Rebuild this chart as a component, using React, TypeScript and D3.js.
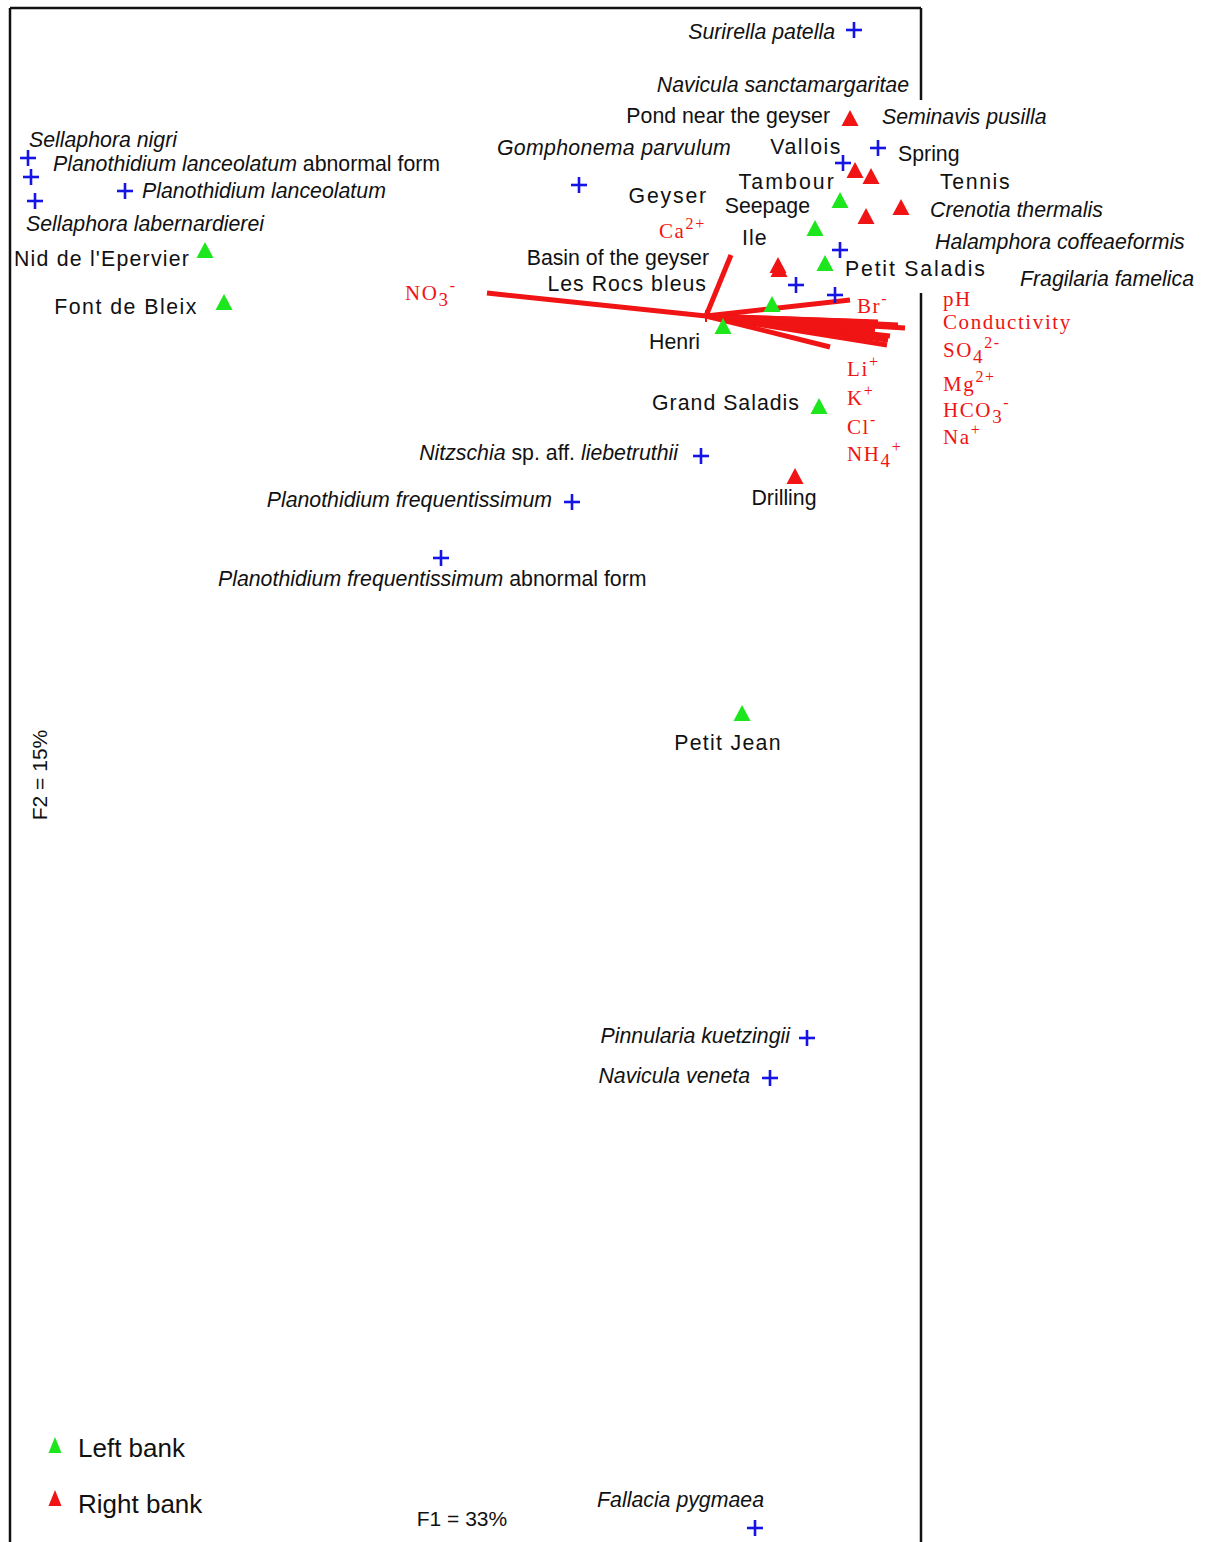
import React from 'react';
import * as d3 from 'd3';

const W = 1213;
const H = 1542;

// species scores (blue crosses); *...* marks italic parts of the name
const speciesNames = [
  '*Surirella patella*',
  '*Navicula sanctamargaritae*',
  '*Seminavis pusilla*',
  '*Gomphonema parvulum*',
  '*Sellaphora nigri*',
  '*Planothidium lanceolatum* abnormal form',
  '*Planothidium lanceolatum*',
  '*Sellaphora labernardierei*',
  '*Crenotia thermalis*',
  '*Halamphora coffeaeformis*',
  '*Fragilaria famelica*',
  '*Nitzschia* sp. aff. *liebetruthii*',
  '*Planothidium frequentissimum*',
  '*Planothidium frequentissimum* abnormal form',
  '*Pinnularia kuetzingii*',
  '*Navicula veneta*',
  '*Fallacia pygmaea*',
];
const speciesF1 = [1.48, 1.37, 1.72, -1.27, -6.78, -6.75, -5.81, -6.71, 1.34, 0.9, 1.29, -0.05, -1.34, -2.65, 1.01, 0.64, 0.49];
const speciesF2 = [2.86, 1.53, 1.68, 1.31, 1.58, 1.39, 1.25, 1.15, 0.66, 0.31, 0.21, -1.4, -1.86, -2.42, -7.22, -7.62, -12.12];

// sampling sites (triangles)
const siteNames = [
  'Pond near the geyser', 'Vallois', 'Spring', 'Tambour', 'Tennis', 'Geyser', 'Seepage', 'Ile',
  'Basin of the geyser', 'Petit Saladis', 'Les Rocs bleus', 'Henri', 'Grand Saladis', 'Drilling',
  'Petit Jean', "Nid de l'Epervier", 'Font de Bleix',
];
const siteF1 = [1.44, 1.49, 1.65, 1.34, 1.95, 1.6, 1.09, 0.72, 0.73, 1.19, 0.66, 0.17, 1.13, 0.89, 0.36, -5.01, -4.82];
const siteF2 = [1.98, 1.46, 1.4, 1.16, 1.09, 1.0, 0.88, 0.51, 0.47, 0.53, 0.12, -0.1, -0.9, -1.6, -3.97, 0.66, 0.14];
const siteBank = ['R', 'R', 'R', 'L', 'R', 'R', 'L', 'R', 'R', 'L', 'L', 'L', 'L', 'R', 'L', 'L', 'L'];

// environmental variables (red vectors); {} subscript, [] superscript
const varNames = [
  'NO{3}[-]', 'Ca[2+]', 'Br[-]', 'pH', 'Conductivity', 'SO{4}[2-]', 'Mg[2+]',
  'HCO{3}[-]', 'Na[+]', 'Li[+]', 'K[+]', 'Cl[-]', 'NH{4}[+]',
];
const varF1 = [-2.19, 0.25, 1.44, 1.99, 1.92, 1.84, 1.82, 1.81, 1.72, 1.24, 1.62, 1.69, 1.54];
const varF2 = [0.23, 0.61, 0.16, -0.12, -0.09, -0.2, -0.24, -0.29, -0.06, -0.31, -0.06, -0.14, -0.11];

const bankLabels = { L: 'Left bank', R: 'Right bank' };

// label nudges in px relative to the mark
type Nudge = { dx: number; dy: number; anchor: string; ls?: number };
const speciesNudge: Nudge[] = [
  { dx: -19, dy: 9, anchor: 'end' },
  { dx: 66, dy: -71, anchor: 'end' },
  { dx: 4, dy: -24, anchor: 'start' },
  { dx: -82, dy: -30, anchor: 'start', ls: 0.3 },
  { dx: 1, dy: -11, anchor: 'start' },
  { dx: 22, dy: -6, anchor: 'start' },
  { dx: 17, dy: 7, anchor: 'start' },
  { dx: -9, dy: 30, anchor: 'start' },
  { dx: 90, dy: -33, anchor: 'start' },
  { dx: 139, dy: -36, anchor: 'start' },
  { dx: 185, dy: -9, anchor: 'start' },
  { dx: -23, dy: 4, anchor: 'end' },
  { dx: -20, dy: 5, anchor: 'end' },
  { dx: -223, dy: 28, anchor: 'start' },
  { dx: -17, dy: 5, anchor: 'end' },
  { dx: -20, dy: 5, anchor: 'end' },
  { dx: 9, dy: -21, anchor: 'end' },
];
const siteNudge: Nudge[] = [
  { dx: -20, dy: 5, anchor: 'end' },
  { dx: -13, dy: -16, anchor: 'end', ls: 1.5 },
  { dx: 27, dy: -15, anchor: 'start' },
  { dx: -4, dy: -11, anchor: 'end', ls: 2.1 },
  { dx: 39, dy: -18, anchor: 'start', ls: 1.6 },
  { dx: -158, dy: -13, anchor: 'end', ls: 1.8 },
  { dx: -5, dy: -15, anchor: 'end' },
  { dx: -36, dy: -20, anchor: 'start', ls: 1 },
  { dx: -70, dy: -4, anchor: 'end' },
  { dx: 20, dy: 13, anchor: 'start', ls: 1.8 },
  { dx: -65, dy: -13, anchor: 'end', ls: 1 },
  { dx: -23, dy: 23, anchor: 'end' },
  { dx: -19, dy: 4, anchor: 'end', ls: 1 },
  { dx: -11, dy: 29, anchor: 'middle' },
  { dx: -14, dy: 37, anchor: 'middle', ls: 1.3 },
  { dx: -15, dy: 16, anchor: 'end', ls: 1.2 },
  { dx: -26, dy: 12, anchor: 'end', ls: 1.5 },
];
const varNudge: Nudge[] = [
  { dx: -82, dy: 7, anchor: 'start' },
  { dx: -72, dy: -17, anchor: 'start' },
  { dx: 7, dy: 13, anchor: 'start' },
  { dx: 38, dy: -22, anchor: 'start' },
  { dx: 45, dy: 4, anchor: 'start' },
  { dx: 53, dy: 21, anchor: 'start' },
  { dx: 55, dy: 51, anchor: 'start' },
  { dx: 56, dy: 72, anchor: 'start' },
  { dx: 65, dy: 122, anchor: 'start' },
  { dx: 17, dy: 29, anchor: 'start' },
  { dx: -21, dy: 83, anchor: 'start' },
  { dx: -28, dy: 104, anchor: 'start' },
  { dx: -13, dy: 134, anchor: 'start' },
];

const BLUE = '#1414e6';
const GREEN = '#1de61d';
const RED = '#f01414';
const SANS = '"Liberation Sans", Arial, sans-serif';
const SERIF = '"Liberation Serif", "Times New Roman", serif';

function italicParts(name: string) {
  return name.split('*').map((s, i) =>
    s ? (
      <tspan key={i} fontStyle={i % 2 === 1 ? 'italic' : 'normal'}>
        {s}
      </tspan>
    ) : null
  );
}

function chemParts(markup: string) {
  const tokens = markup.match(/\{[^}]*\}|\[[^\]]*\]|[^{[]+/g) || [];
  let shift = 0;
  return tokens.map((t, i) => {
    let target = 0;
    let size: number | undefined;
    let text = t;
    if (t[0] === '{') {
      target = 6;
      size = 19;
      text = t.slice(1, -1);
    } else if (t[0] === '[') {
      target = -9;
      size = 16;
      text = t.slice(1, -1);
    }
    const dy = target - shift;
    shift = target;
    return (
      <tspan key={i} dy={dy} fontSize={size}>
        {text}
      </tspan>
    );
  });
}

const tri = (w: number, h: number) => `M0,${-h / 2}L${w / 2},${h / 2}L${-w / 2},${h / 2}Z`;

export default function App() {
  const x = d3.scaleLinear().domain([-6.96, 2.15]).range([10, 921]);
  const y = d3.scaleLinear().domain([3.08, -12.26]).range([8, 1542]);
  const [x0, x1] = x.range();
  const [y0, y1] = y.range();

  return (
    <svg
      width={W}
      height={H}
      style={{ position: 'absolute', left: 0, top: 0, background: '#fff' }}
      fontFamily={SANS}
    >
      {/* frame */}
      <g stroke="#111" strokeWidth={2.5} fill="none">
        <line x1={x0} y1={y0} x2={x0} y2={y1} />
        <line x1={x0} y1={y0} x2={x1} y2={y0} />
        <line x1={x1} y1={y0} x2={x1} y2={100} />
        <line x1={x1} y1={293} x2={x1} y2={y1} />
      </g>

      {/* vectors */}
      <g stroke={RED} strokeWidth={5} strokeLinecap="butt">
        {varNames.map((n, i) => (
          <line key={n} x1={x(0)} y1={y(0)} x2={x(varF1[i])} y2={y(varF2[i])} />
        ))}
        <line x1={x(0)} y1={y(0) - 6} x2={x(0)} y2={y(0) + 6} strokeWidth={2} />
      </g>
      <g fill={RED} fontFamily={SERIF} fontSize={21} letterSpacing={1.6} style={{ whiteSpace: 'pre' }}>
        {varNames.map((n, i) => (
          <text
            key={n}
            x={x(varF1[i]) + varNudge[i].dx}
            y={y(varF2[i]) + varNudge[i].dy}
            textAnchor={varNudge[i].anchor}
          >
            {chemParts(n)}
          </text>
        ))}
      </g>

      {/* sites */}
      {siteNames.map((n, i) => (
        <path
          key={n}
          d={tri(17, 16)}
          transform={`translate(${x(siteF1[i])},${y(siteF2[i])})`}
          fill={siteBank[i] === 'L' ? GREEN : RED}
        />
      ))}
      <g fontSize={21.3} fill="#111" style={{ whiteSpace: 'pre' }}>
        {siteNames.map((n, i) => (
          <text
            key={n}
            x={x(siteF1[i]) + siteNudge[i].dx}
            y={y(siteF2[i]) + siteNudge[i].dy}
            textAnchor={siteNudge[i].anchor}
            letterSpacing={siteNudge[i].ls || 0}
          >
            {n}
          </text>
        ))}
      </g>

      {/* species */}
      <g stroke={BLUE} strokeWidth={2.6}>
        {speciesNames.map((n, i) => {
          const cx = x(speciesF1[i]);
          const cy = y(speciesF2[i]);
          return (
            <g key={n}>
              <line x1={cx - 8} y1={cy} x2={cx + 8} y2={cy} />
              <line x1={cx} y1={cy - 8} x2={cx} y2={cy + 8} />
            </g>
          );
        })}
      </g>
      <g fontSize={21.3} fill="#111" style={{ whiteSpace: 'pre' }}>
        {speciesNames.map((n, i) => (
          <text
            key={n}
            x={x(speciesF1[i]) + speciesNudge[i].dx}
            y={y(speciesF2[i]) + speciesNudge[i].dy}
            textAnchor={speciesNudge[i].anchor}
            letterSpacing={speciesNudge[i].ls || 0}
          >
            {italicParts(n)}
          </text>
        ))}
      </g>

      {/* axis titles */}
      <text x={462} y={1526} fontSize={21} textAnchor="middle" fill="#111">
        F1 = 33%
      </text>
      <text
        transform="translate(47,775) rotate(-90)"
        fontSize={21}
        textAnchor="middle"
        fill="#111"
      >
        F2 = 15%
      </text>

      {/* legend */}
      {(['L', 'R'] as const).map((b, i) => (
        <g key={b} transform={`translate(55,${1445 + i * 53})`}>
          <path d={tri(13, 16)} fill={b === 'L' ? GREEN : RED} />
          <text x={23} y={12 + i * 3} fontSize={26} fill="#111">
            {bankLabels[b]}
          </text>
        </g>
      ))}
    </svg>
  );
}
